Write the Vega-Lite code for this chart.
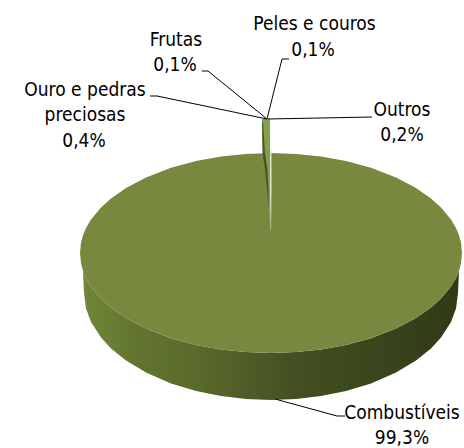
{"$schema":"https://vega.github.io/schema/vega-lite/v6.json","width":464,"height":448,"padding":0,"autosize":{"type":"none"},"background":"white","view":{"stroke":null},
"datasets":{
"wall":[{"u":80,"a":253,"b":253},{"u":81,"a":263.2,"b":263.2},{"u":83,"a":270.7,"b":270.7},{"u":84,"a":273.3,"b":293},{"u":86,"a":277.9,"b":308.6},{"u":91,"a":286.4,"b":322},{"u":101,"a":298.6,"b":337.6},{"u":111,"a":307.6,"b":348.4},{"u":126,"a":318.1,"b":360.6},{"u":146,"a":328.6,"b":372.6},{"u":171,"a":338.2,"b":383.4},{"u":196,"a":345,"b":391},{"u":221,"a":349.5,"b":396},{"u":246,"a":352.1,"b":399},{"u":271,"a":353,"b":400},{"u":296,"a":352.1,"b":399},{"u":321,"a":349.5,"b":396},{"u":346,"a":345,"b":391},{"u":371,"a":338.2,"b":383.4},{"u":396,"a":328.6,"b":372.6},{"u":416,"a":318.1,"b":360.6},{"u":431,"a":307.6,"b":348.4},{"u":441,"a":298.6,"b":337.6},{"u":451,"a":286.4,"b":322},{"u":456,"a":277.9,"b":308.6},{"u":458,"a":273.3,"b":293},{"u":459,"a":270.7,"b":270.7},{"u":461,"a":263.2,"b":263.2},{"u":462,"a":253,"b":253}],
"face":[{"u":80,"a":253,"b":253},{"u":81,"a":242.8,"b":263.2},{"u":83,"a":235.3,"b":270.7},{"u":84,"a":232.7,"b":273.3},{"u":86,"a":228.1,"b":277.9},{"u":91,"a":219.6,"b":286.4},{"u":101,"a":207.4,"b":298.6},{"u":111,"a":198.4,"b":307.6},{"u":126,"a":187.9,"b":318.1},{"u":146,"a":177.4,"b":328.6},{"u":171,"a":167.8,"b":338.2},{"u":196,"a":161,"b":345},{"u":221,"a":156.5,"b":349.5},{"u":246,"a":153.9,"b":352.1},{"u":271,"a":153,"b":353},{"u":296,"a":153.9,"b":352.1},{"u":321,"a":156.5,"b":349.5},{"u":346,"a":161,"b":345},{"u":371,"a":167.8,"b":338.2},{"u":396,"a":177.4,"b":328.6},{"u":416,"a":187.9,"b":318.1},{"u":431,"a":198.4,"b":307.6},{"u":441,"a":207.4,"b":298.6},{"u":451,"a":219.6,"b":286.4},{"u":456,"a":228.1,"b":277.9},{"u":458,"a":232.7,"b":273.3},{"u":459,"a":235.3,"b":270.7},{"u":461,"a":242.8,"b":263.2},{"u":462,"a":253,"b":253}],
"slicetop":[{"v":119,"p":262,"q":270},{"v":153,"p":263,"q":270},{"v":190,"p":267,"q":270},{"v":230,"p":270.5,"q":270.5}],
"slicewall":[{"v":122,"p":262,"q":263},{"v":153,"p":262.5,"q":265},{"v":170,"p":265,"q":267.5},{"v":190,"p":267,"q":268.5},{"v":207,"p":268.5,"q":268.7}],
"sliceedge":[{"v":150,"p":270,"q":271.5},{"v":190,"p":270,"q":271.5},{"v":230,"p":270.6,"q":271}],
"leaders":[{"k":"Frutas","n":1,"u":202,"v":71},{"k":"Frutas","n":2,"u":208,"v":71},{"k":"Frutas","n":3,"u":267,"v":119},{"k":"Peles","n":1,"u":289,"v":59},{"k":"Peles","n":2,"u":282,"v":59},{"k":"Peles","n":3,"u":267,"v":119},{"k":"Ouro","n":1,"u":150,"v":96},{"k":"Ouro","n":2,"u":157,"v":96},{"k":"Ouro","n":3,"u":267,"v":119},{"k":"Outros","n":1,"u":372,"v":117},{"k":"Outros","n":2,"u":268,"v":119},{"k":"Comb","n":1,"u":275,"v":399},{"k":"Comb","n":2,"u":337,"v":416},{"k":"Comb","n":3,"u":345,"v":416}],
"labels":[{"t":"Peles e couros","u":314.5,"v":24},{"t":"0,1%","u":313,"v":50},{"t":"Frutas","u":176,"v":40},{"t":"0,1%","u":175,"v":65},{"t":"Ouro e pedras","u":85,"v":90},{"t":"preciosas","u":85,"v":115},{"t":"0,4%","u":84,"v":141},{"t":"Outros","u":402,"v":110},{"t":"0,2%","u":402,"v":135},{"t":"Combustíveis","u":402,"v":413},{"t":"99,3%","u":402,"v":438}]
},
"layer":[
{"data":{"name":"wall"},"mark":{"type":"area","color":{"x1":0,"y1":0,"x2":1,"y2":0,"gradient":"linear","stops":[{"offset":0,"color":"#72873a"},{"offset":0.15,"color":"#62752f"},{"offset":0.3,"color":"#5a6b2d"},{"offset":0.55,"color":"#435122"},{"offset":1,"color":"#2f3a16"}]}},"encoding":{"x":{"field":"u","type":"quantitative","scale":{"domain":[0,464]},"axis":null},"y":{"field":"a","type":"quantitative","scale":{"domain":[448,0]},"axis":null},"y2":{"field":"b"}}},
{"data":{"name":"face"},"mark":{"type":"area","color":"#76893f"},"encoding":{"x":{"field":"u","type":"quantitative","scale":{"domain":[0,464]},"axis":null},"y":{"field":"a","type":"quantitative","scale":{"domain":[448,0]},"axis":null},"y2":{"field":"b"}}},
{"data":{"name":"slicetop"},"mark":{"type":"area","orient":"horizontal","color":"#84a04a"},"encoding":{"y":{"field":"v","type":"quantitative","scale":{"domain":[448,0]},"axis":null},"x":{"field":"p","type":"quantitative","scale":{"domain":[0,464]},"axis":null},"x2":{"field":"q"}}},
{"data":{"name":"slicewall"},"mark":{"type":"area","orient":"horizontal","color":"#46552a"},"encoding":{"y":{"field":"v","type":"quantitative","scale":{"domain":[448,0]},"axis":null},"x":{"field":"p","type":"quantitative","scale":{"domain":[0,464]},"axis":null},"x2":{"field":"q"}}},
{"data":{"name":"sliceedge"},"mark":{"type":"area","orient":"horizontal","color":"#dfe5cf"},"encoding":{"y":{"field":"v","type":"quantitative","scale":{"domain":[448,0]},"axis":null},"x":{"field":"p","type":"quantitative","scale":{"domain":[0,464]},"axis":null},"x2":{"field":"q"}}},
{"data":{"name":"leaders"},"mark":{"type":"line","color":"#000000","strokeWidth":1},"encoding":{"detail":{"field":"k"},"order":{"field":"n"},"x":{"field":"u","type":"quantitative","scale":{"domain":[0,464]},"axis":null},"y":{"field":"v","type":"quantitative","scale":{"domain":[448,0]},"axis":null}}},
{"data":{"name":"labels"},"mark":{"type":"text","font":"DejaVu Sans Condensed","fontSize":19,"color":"#000000","align":"center","baseline":"middle"},"encoding":{"text":{"field":"t"},"x":{"field":"u","type":"quantitative","scale":{"domain":[0,464]},"axis":null},"y":{"field":"v","type":"quantitative","scale":{"domain":[448,0]},"axis":null}}}
]}
